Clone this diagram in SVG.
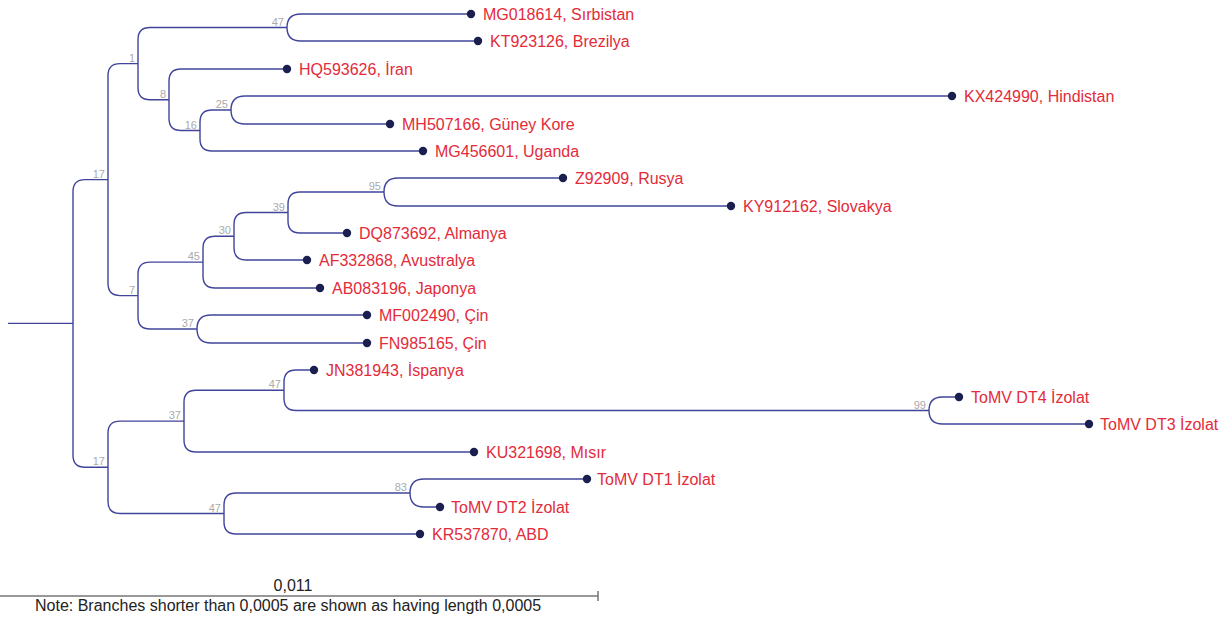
<svg xmlns="http://www.w3.org/2000/svg" width="1226" height="617" viewBox="0 0 1226 617">
<style>
.br{fill:none;stroke:#40449a;stroke-width:1.4}
.dot{fill:#1b1f4f}
.lf{font-family:"Liberation Sans",Arial,sans-serif;font-size:16px;fill:#e32b3a}
.bs{font-family:"Liberation Sans",Arial,sans-serif;font-size:11px;fill:#aaaaaa;text-anchor:end}
.sc{font-family:"Liberation Sans",Arial,sans-serif;font-size:16px;fill:#222}
</style>
<rect width="1226" height="617" fill="#fff"/>
<g id="connectors">
<path class="br" d="M8 323.4H73"/>
<path class="br" d="M108 179.6H85Q73 179.6 73 191.6V455.3Q73 467.3 85 467.3H108"/>
<path class="br" d="M138 63.6H120Q108 63.6 108 75.6V283.6Q108 295.6 120 295.6H138"/>
<path class="br" d="M287 27.5H150Q138 27.5 138 39.5V87.75Q138 99.75 150 99.75H169"/>
<path class="br" d="M471 14H300.75Q287 14 287 27.5Q287 41 300.75 41H478"/>
<path class="br" d="M287 69H181Q169 69 169 81V118.5Q169 130.5 181 130.5H200"/>
<path class="br" d="M231 110H212Q200 110 200 122V139Q200 151 212 151H423"/>
<path class="br" d="M952 96H245Q231 96 231 110Q231 124 245 124H390"/>
<path class="br" d="M203 262.1H150Q138 262.1 138 274.1V317Q138 329 150 329H197"/>
<path class="br" d="M234 236.3H215Q203 236.3 203 248.3V276Q203 288 215 288H320"/>
<path class="br" d="M288 212.5H246Q234 212.5 234 224.5V248Q234 260 246 260H307"/>
<path class="br" d="M384 192H300Q288 192 288 204V221Q288 233 300 233H347"/>
<path class="br" d="M563 178H398Q384 178 384 192Q384 206 398 206H731"/>
<path class="br" d="M367 315H211Q197 315 197 329Q197 343 211 343H367"/>
<path class="br" d="M184 421.1H120Q108 421.1 108 433.1V501.5Q108 513.5 120 513.5H224"/>
<path class="br" d="M284 390.3H196Q184 390.3 184 402.3V440Q184 452 196 452H474"/>
<path class="br" d="M314 370H296Q284 370 284 382V398.5Q284 410.5 296 410.5H929"/>
<path class="br" d="M959 397H942.5Q929 397 929 410.5Q929 424 942.5 424H1089"/>
<path class="br" d="M410 493H236Q224 493 224 505V522Q224 534 236 534H420"/>
<path class="br" d="M587 479H424Q410 479 410 493Q410 507 424 507H440"/>
</g>
<g id="support-values">
<text class="bs" x="284" y="25.5">47</text>
<text class="bs" x="135" y="61.6">1</text>
<text class="bs" x="166" y="97.7">8</text>
<text class="bs" x="197" y="128.5">16</text>
<text class="bs" x="228" y="108">25</text>
<text class="bs" x="105" y="177.6">17</text>
<text class="bs" x="381" y="190">95</text>
<text class="bs" x="285" y="210.5">39</text>
<text class="bs" x="231" y="234.3">30</text>
<text class="bs" x="200" y="260.1">45</text>
<text class="bs" x="135" y="293.6">7</text>
<text class="bs" x="194" y="327">37</text>
<text class="bs" x="105" y="465.3">17</text>
<text class="bs" x="181" y="419.1">37</text>
<text class="bs" x="281" y="388.3">47</text>
<text class="bs" x="926" y="408.5">99</text>
<text class="bs" x="221" y="511.5">47</text>
<text class="bs" x="407" y="491">83</text>
</g>
<g id="leaf-MG018614"><circle class="dot" cx="471" cy="14" r="4.2"/><text class="lf" x="483" y="20">MG018614, Sırbistan</text></g>
<g id="leaf-KT923126"><circle class="dot" cx="478" cy="41" r="4.2"/><text class="lf" x="490" y="47">KT923126, Brezilya</text></g>
<g id="leaf-HQ593626"><circle class="dot" cx="287" cy="69" r="4.2"/><text class="lf" x="299" y="75">HQ593626, İran</text></g>
<g id="leaf-KX424990"><circle class="dot" cx="952" cy="96" r="4.2"/><text class="lf" x="964" y="102">KX424990, Hindistan</text></g>
<g id="leaf-MH507166"><circle class="dot" cx="390" cy="124" r="4.2"/><text class="lf" x="402" y="130">MH507166, Güney Kore</text></g>
<g id="leaf-MG456601"><circle class="dot" cx="423" cy="151" r="4.2"/><text class="lf" x="435" y="157">MG456601, Uganda</text></g>
<g id="leaf-Z92909"><circle class="dot" cx="563" cy="178" r="4.2"/><text class="lf" x="575" y="184">Z92909, Rusya</text></g>
<g id="leaf-KY912162"><circle class="dot" cx="731" cy="206" r="4.2"/><text class="lf" x="743" y="212">KY912162, Slovakya</text></g>
<g id="leaf-DQ873692"><circle class="dot" cx="347" cy="233" r="4.2"/><text class="lf" x="359" y="239">DQ873692, Almanya</text></g>
<g id="leaf-AF332868"><circle class="dot" cx="307" cy="260" r="4.2"/><text class="lf" x="319" y="266">AF332868, Avustralya</text></g>
<g id="leaf-AB083196"><circle class="dot" cx="320" cy="288" r="4.2"/><text class="lf" x="332" y="294">AB083196, Japonya</text></g>
<g id="leaf-MF002490"><circle class="dot" cx="367" cy="315" r="4.2"/><text class="lf" x="379" y="321">MF002490, Çin</text></g>
<g id="leaf-FN985165"><circle class="dot" cx="367" cy="343" r="4.2"/><text class="lf" x="379" y="349">FN985165, Çin</text></g>
<g id="leaf-JN381943"><circle class="dot" cx="314" cy="370" r="4.2"/><text class="lf" x="326" y="376">JN381943, İspanya</text></g>
<g id="leaf-DT4"><circle class="dot" cx="959" cy="397" r="4.2"/><text class="lf" x="971" y="403">ToMV DT4 İzolat</text></g>
<g id="leaf-DT3"><circle class="dot" cx="1089" cy="424" r="4.2"/><text class="lf" x="1100" y="430">ToMV DT3 İzolat</text></g>
<g id="leaf-KU321698"><circle class="dot" cx="474" cy="452" r="4.2"/><text class="lf" x="486" y="458">KU321698, Mısır</text></g>
<g id="leaf-DT1"><circle class="dot" cx="587" cy="479" r="4.2"/><text class="lf" x="597" y="485">ToMV DT1 İzolat</text></g>
<g id="leaf-DT2"><circle class="dot" cx="440" cy="507" r="4.2"/><text class="lf" x="451" y="513">ToMV DT2 İzolat</text></g>
<g id="leaf-KR537870"><circle class="dot" cx="420" cy="534" r="4.2"/><text class="lf" x="432" y="540">KR537870, ABD</text></g>
<g id="scale">
<path d="M0 596H598M598 591V601" fill="none" stroke="#777" stroke-width="1.5"/>
<text class="sc" x="293" y="591" text-anchor="middle">0,011</text>
<text class="sc" x="35" y="611">Note: Branches shorter than 0,0005 are shown as having length 0,0005</text>
</g>
</svg>
